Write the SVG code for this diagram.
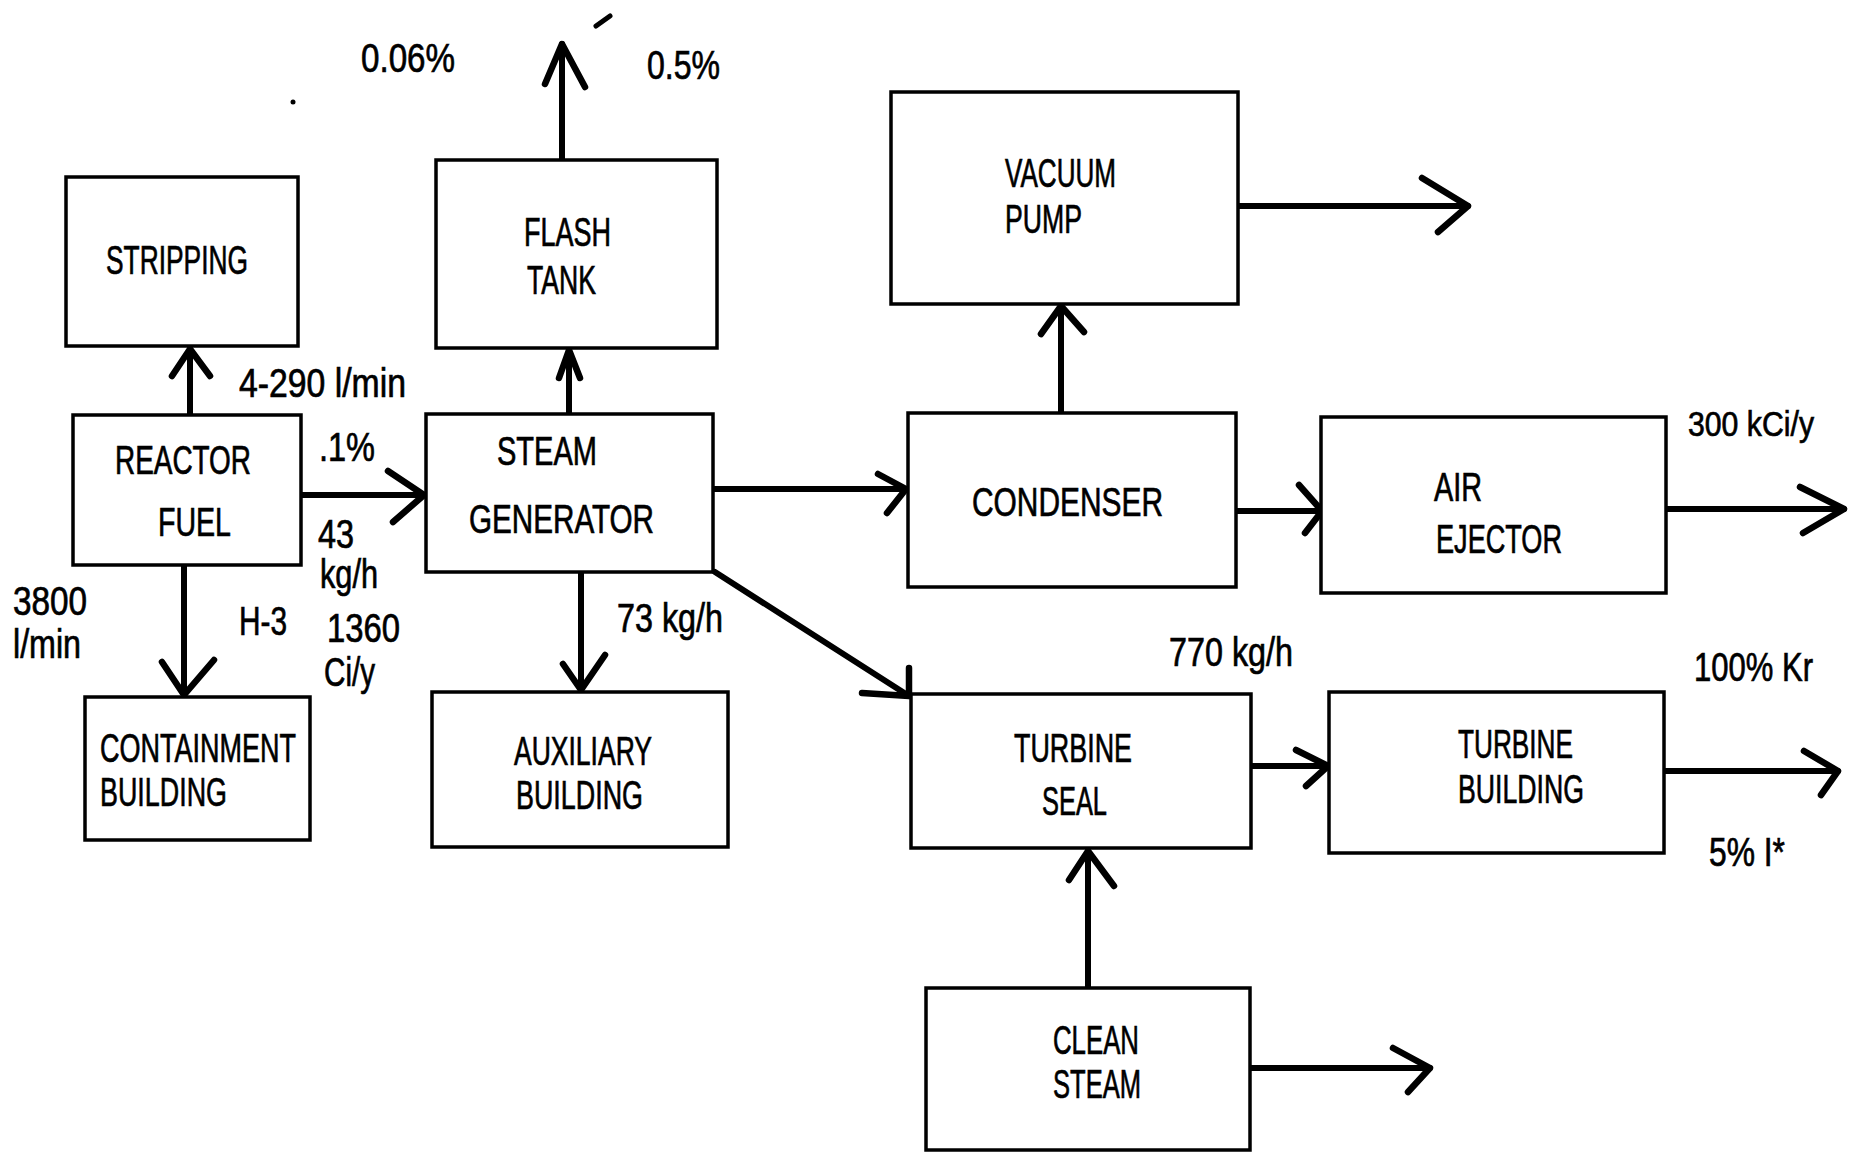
<svg xmlns="http://www.w3.org/2000/svg" width="1849" height="1152" viewBox="0 0 1849 1152">
<style>
.box{fill:#fff;stroke:#000;stroke-width:3.5}
.ln{fill:none;stroke:#000;stroke-width:6;stroke-linecap:round;stroke-linejoin:round}
.hd{fill:none;stroke:#000;stroke-width:6.5;stroke-linecap:round;stroke-linejoin:round}
text{font-family:"Liberation Sans","DejaVu Sans",Arial,sans-serif;font-size:40px;fill:#000;stroke:#000;stroke-width:0.7}
text.sm{font-size:35px}
</style>
<rect width="1849" height="1152" fill="#fff"/>
<g id="marks">
<line x1="596" y1="26" x2="610" y2="16" stroke="#000" stroke-width="5" stroke-linecap="round"/>
<circle cx="293" cy="102" r="2.5" fill="#000"/>
</g>
<g id="connectors">
<path class="ln" d="M190,415 V349"/><path class="hd" d="M172,376 L190,349 L210,376"/>
<path class="ln" d="M301,495 H424"/><path class="hd" d="M388,471 L424,495 L393,522"/>
<path class="ln" d="M184,565 V695"/><path class="hd" d="M162,662 L184,695 L214,660"/>
<path class="ln" d="M569,414 V350"/><path class="hd" d="M559,378 L569,350 L580,378"/>
<path class="ln" d="M562,161 V44"/><path class="hd" d="M545,84 L562,44 L585,87"/>
<path class="ln" d="M713,489 H906"/><path class="hd" d="M878,474 L906,489 L887,513"/>
<path class="ln" d="M581,572 V690"/><path class="hd" d="M563,664 L581,690 L605,655"/>
<path class="ln" d="M715,572 L909,696"/><path class="hd" d="M862,693 L909,696 L909,668"/>
<path class="ln" d="M1061,413 V306"/><path class="hd" d="M1041,334 L1061,306 L1084,332"/>
<path class="ln" d="M1238,206 H1468"/><path class="hd" d="M1422,178 L1468,206 L1438,232"/>
<path class="ln" d="M1236,511 H1322"/><path class="hd" d="M1299,485 L1322,511 L1305,533"/>
<path class="ln" d="M1666,509 H1844"/><path class="hd" d="M1800,487 L1844,509 L1803,533"/>
<path class="ln" d="M1251,766 H1328"/><path class="hd" d="M1296,750 L1328,766 L1306,786"/>
<path class="ln" d="M1664,771 H1838"/><path class="hd" d="M1804,751 L1838,771 L1821,795"/>
<path class="ln" d="M1088,988 V851"/><path class="hd" d="M1069,880 L1088,851 L1114,886"/>
<path class="ln" d="M1250,1068 H1430"/><path class="hd" d="M1393,1048 L1430,1068 L1408,1092"/>
</g>
<g id="labels">
<text x="361" y="72" textLength="94" lengthAdjust="spacingAndGlyphs">0.06%</text>
<text x="647" y="79" textLength="73" lengthAdjust="spacingAndGlyphs">0.5%</text>
<text x="239" y="397" textLength="167" lengthAdjust="spacingAndGlyphs">4-290 l/min</text>
<text x="319" y="461" textLength="56" lengthAdjust="spacingAndGlyphs">.1%</text>
<text x="318" y="548" textLength="36" lengthAdjust="spacingAndGlyphs">43</text>
<text x="320" y="588" textLength="58" lengthAdjust="spacingAndGlyphs">kg/h</text>
<text x="327" y="642" textLength="73" lengthAdjust="spacingAndGlyphs">1360</text>
<text x="324" y="686" textLength="51" lengthAdjust="spacingAndGlyphs">Ci/y</text>
<text x="13" y="615" textLength="74" lengthAdjust="spacingAndGlyphs">3800</text>
<text x="13" y="658" textLength="68" lengthAdjust="spacingAndGlyphs">l/min</text>
<text x="239" y="635" textLength="48" lengthAdjust="spacingAndGlyphs">H-3</text>
<text x="617" y="632" textLength="106" lengthAdjust="spacingAndGlyphs">73 kg/h</text>
<text class="sm" x="1688" y="436" textLength="126" lengthAdjust="spacingAndGlyphs">300 kCi/y</text>
<text x="1169" y="666" textLength="124" lengthAdjust="spacingAndGlyphs">770 kg/h</text>
<text x="1694" y="681" textLength="119" lengthAdjust="spacingAndGlyphs">100% Kr</text>
<text x="1709" y="866" textLength="76" lengthAdjust="spacingAndGlyphs">5% I*</text>
</g>
<g id="stripping"><rect class="box" x="66" y="177" width="232" height="169"/>
<text x="106" y="274" textLength="142" lengthAdjust="spacingAndGlyphs">STRIPPING</text></g>
<g id="flash-tank"><rect class="box" x="436" y="160" width="281" height="188"/>
<text x="524" y="246" textLength="87" lengthAdjust="spacingAndGlyphs">FLASH</text>
<text x="527" y="294" textLength="69" lengthAdjust="spacingAndGlyphs">TANK</text></g>
<g id="vacuum-pump"><rect class="box" x="891" y="92" width="347" height="212"/>
<text x="1005" y="187" textLength="111" lengthAdjust="spacingAndGlyphs">VACUUM</text>
<text x="1005" y="233" textLength="77" lengthAdjust="spacingAndGlyphs">PUMP</text></g>
<g id="reactor-fuel"><rect class="box" x="73" y="415" width="228" height="150"/>
<text x="115" y="474" textLength="136" lengthAdjust="spacingAndGlyphs">REACTOR</text>
<text x="158" y="536" textLength="73" lengthAdjust="spacingAndGlyphs">FUEL</text></g>
<g id="steam-generator"><rect class="box" x="426" y="414" width="287" height="158"/>
<text x="497" y="465" textLength="100" lengthAdjust="spacingAndGlyphs">STEAM</text>
<text x="469" y="533" textLength="185" lengthAdjust="spacingAndGlyphs">GENERATOR</text></g>
<g id="condenser"><rect class="box" x="908" y="413" width="328" height="174"/>
<text x="972" y="516" textLength="191" lengthAdjust="spacingAndGlyphs">CONDENSER</text></g>
<g id="air-ejector"><rect class="box" x="1321" y="417" width="345" height="176"/>
<text x="1434" y="501" textLength="48" lengthAdjust="spacingAndGlyphs">AIR</text>
<text x="1436" y="553" textLength="126" lengthAdjust="spacingAndGlyphs">EJECTOR</text></g>
<g id="containment-building"><rect class="box" x="85" y="697" width="225" height="143"/>
<text x="100" y="762" textLength="196" lengthAdjust="spacingAndGlyphs">CONTAINMENT</text>
<text x="100" y="806" textLength="127" lengthAdjust="spacingAndGlyphs">BUILDING</text></g>
<g id="auxiliary-building"><rect class="box" x="432" y="692" width="296" height="155"/>
<text x="514" y="765" textLength="138" lengthAdjust="spacingAndGlyphs">AUXILIARY</text>
<text x="516" y="809" textLength="127" lengthAdjust="spacingAndGlyphs">BUILDING</text></g>
<g id="turbine-seal"><rect class="box" x="911" y="694" width="340" height="154"/>
<text x="1014" y="762" textLength="118" lengthAdjust="spacingAndGlyphs">TURBINE</text>
<text x="1042" y="815" textLength="65" lengthAdjust="spacingAndGlyphs">SEAL</text></g>
<g id="turbine-building"><rect class="box" x="1329" y="692" width="335" height="161"/>
<text x="1458" y="758" textLength="115" lengthAdjust="spacingAndGlyphs">TURBINE</text>
<text x="1458" y="803" textLength="126" lengthAdjust="spacingAndGlyphs">BUILDING</text></g>
<g id="clean-steam"><rect class="box" x="926" y="988" width="324" height="162"/>
<text x="1053" y="1054" textLength="86" lengthAdjust="spacingAndGlyphs">CLEAN</text>
<text x="1053" y="1098" textLength="88" lengthAdjust="spacingAndGlyphs">STEAM</text></g>
</svg>
